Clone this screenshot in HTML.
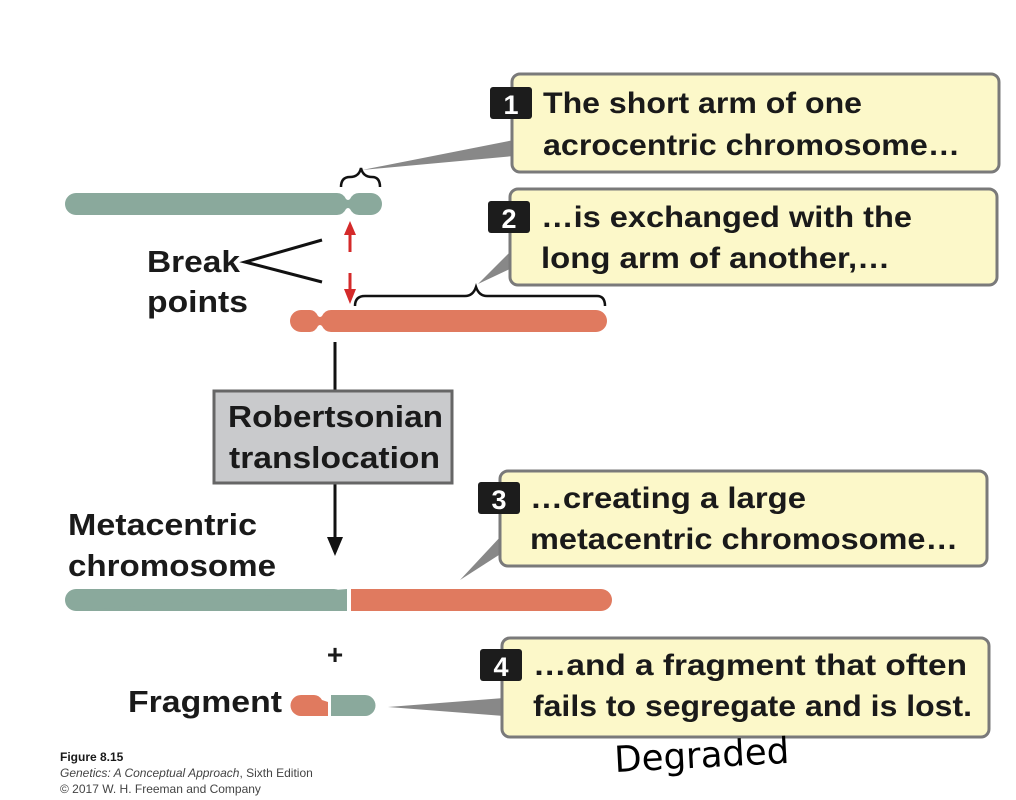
<!DOCTYPE html>
<html><head><meta charset="utf-8"><style>
html,body{margin:0;padding:0;background:#fff;width:1016px;height:800px;overflow:hidden}
text{font-family:"Liberation Sans",sans-serif;font-weight:bold;fill:#1a1a1a}
</style></head><body>
<svg width="1016" height="800" viewBox="0 0 1016 800" xmlns="http://www.w3.org/2000/svg">
<defs>
<linearGradient id="g" x1="0" x2="1"><stop offset="0" stop-color="#555"/><stop offset="1" stop-color="#999"/></linearGradient>
</defs>
<!-- callout pointers -->
<polygon points="362,170 514,140 514,156" fill="#888"/>
<polygon points="478,284 512,250 512,268" fill="#888"/>
<polygon points="460,580 502,535 502,553" fill="#888"/>
<polygon points="388,707 504,698 504,716" fill="#888"/>
<!-- boxes -->
<rect x="512" y="74" width="487" height="98" rx="8" fill="#fcf8c9" stroke="#7a7a7a" stroke-width="3"/>
<rect x="510" y="189" width="487" height="96" rx="8" fill="#fcf8c9" stroke="#7a7a7a" stroke-width="3"/>
<rect x="500" y="471" width="487" height="95" rx="8" fill="#fcf8c9" stroke="#7a7a7a" stroke-width="3"/>
<rect x="502" y="638" width="487" height="99" rx="8" fill="#fcf8c9" stroke="#7a7a7a" stroke-width="3"/>
<!-- number squares -->
<rect x="490" y="87" width="42" height="32" rx="3" fill="#1c1c1c"/><text x="511" y="114" text-anchor="middle" font-size="27" style="fill:#fff">1</text>
<rect x="488" y="201" width="42" height="32" rx="3" fill="#1c1c1c"/><text x="509" y="228" text-anchor="middle" font-size="27" style="fill:#fff">2</text>
<rect x="478" y="482" width="42" height="32" rx="3" fill="#1c1c1c"/><text x="499" y="509" text-anchor="middle" font-size="27" style="fill:#fff">3</text>
<rect x="480" y="649" width="42" height="32" rx="3" fill="#1c1c1c"/><text x="501" y="676" text-anchor="middle" font-size="27" style="fill:#fff">4</text>
<!-- box text -->
<g font-size="30" lengthAdjust="spacingAndGlyphs">
<text x="543" y="113" textLength="319" lengthAdjust="spacingAndGlyphs">The short arm of one</text>
<text x="543" y="155" textLength="417" lengthAdjust="spacingAndGlyphs">acrocentric chromosome…</text>
<text x="541" y="227" textLength="371" lengthAdjust="spacingAndGlyphs">…is exchanged with the</text>
<text x="541" y="268" textLength="349" lengthAdjust="spacingAndGlyphs">long arm of another,…</text>
<text x="530" y="508" textLength="276" lengthAdjust="spacingAndGlyphs">…creating a large</text>
<text x="530" y="549" textLength="428" lengthAdjust="spacingAndGlyphs">metacentric chromosome…</text>
<text x="533" y="675" textLength="434" lengthAdjust="spacingAndGlyphs">…and a fragment that often</text>
<text x="533" y="716" textLength="439" lengthAdjust="spacingAndGlyphs">fails to segregate and is lost.</text>
</g>
<!-- chromosome 1 (green) -->
<path d="M76,193 H337 Q343,193 346,199 Q348,201 350,199 Q353,193 359,193 H371 A11,11 0 0 1 371,215 H359 Q353,215 350,209 Q348,207 346,209 Q343,215 337,215 H76 A11,11 0 0 1 76,193 Z" fill="#8aa99c"/>
<!-- brace 1 -->
<path d="M341,187 Q341,177 350,177 Q359,177 361,168 Q363,177 372,177 Q380,177 380,187" fill="none" stroke="#111" stroke-width="2.5"/>
<!-- chromosome 2 (orange) -->
<path d="M301,310 H310 Q315,310 318,316 Q320,318 322,316 Q325,310 331,310 H596 A11,11 0 0 1 596,332 H331 Q325,332 322,326 Q320,324 318,326 Q315,332 310,332 H301 A11,11 0 0 1 301,310 Z" fill="#e07a5f"/>
<!-- brace 2 -->
<path d="M355,306 Q355,296 365,296 H465 Q473,296 476,287 Q479,296 487,296 H597 Q605,296 605,306" fill="none" stroke="#111" stroke-width="2.5"/>
<!-- red arrows -->
<line x1="350" y1="252" x2="350" y2="232" stroke="#d42a2a" stroke-width="3"/>
<polygon points="344,235 356,235 350,221" fill="#d42a2a"/>
<line x1="350" y1="273" x2="350" y2="292" stroke="#d42a2a" stroke-width="3"/>
<polygon points="344,289 356,289 350,304" fill="#d42a2a"/>
<!-- break point lines -->
<polyline points="322,240 245,262 322,282" fill="none" stroke="#111" stroke-width="3"/>
<text x="147" y="272" font-size="31" textLength="93" lengthAdjust="spacingAndGlyphs">Break</text>
<text x="147" y="312" font-size="31" textLength="101" lengthAdjust="spacingAndGlyphs">points</text>
<!-- arrow down -->
<line x1="335" y1="342" x2="335" y2="390" stroke="#111" stroke-width="3"/>
<line x1="335" y1="484" x2="335" y2="540" stroke="#111" stroke-width="3"/>
<polygon points="327,537 343,537 335,556" fill="#111"/>
<rect x="214" y="391" width="238" height="92" fill="#c9cacc" stroke="#666" stroke-width="3"/>
<text x="228" y="427" font-size="31" textLength="215" lengthAdjust="spacingAndGlyphs">Robertsonian</text>
<text x="229" y="468" font-size="31" textLength="211" lengthAdjust="spacingAndGlyphs">translocation</text>
<text x="68" y="535" font-size="31" textLength="189" lengthAdjust="spacingAndGlyphs">Metacentric</text>
<text x="68" y="576" font-size="31" textLength="208" lengthAdjust="spacingAndGlyphs">chromosome</text>
<!-- metacentric -->
<path d="M76,589 H334 Q340,589 343,595 L347,598 V611 H76 A11,11 0 0 1 76,589 Z" fill="#8aa99c"/>
<path d="M76,611 H334 Q340,611 343,605 L347,602 V589" fill="#8aa99c"/>
<path d="M351,589 H601 A11,11 0 0 1 601,611 H351 Z" fill="#e07a5f"/>
<text x="335" y="664" font-size="28" text-anchor="middle">+</text>
<text x="128" y="712" font-size="31" textLength="154" lengthAdjust="spacingAndGlyphs">Fragment</text>
<!-- fragment -->
<path d="M301,695 H314 Q319,695 322,700 L328,702 V716 H301 A10.5,10.5 0 0 1 301,695 Z" fill="#e07a5f"/>
<path d="M301,716 H314 Q319,716 322,711 L328,709" fill="#e07a5f"/>
<path d="M331,695 H365 A10.5,10.5 0 0 1 365,716 H331 Z" fill="#8aa99c"/>
<!-- footer -->
<text x="60" y="761" font-size="12">Figure 8.15</text>
<text x="60" y="777" font-size="12" style="font-weight:normal;fill:#444"><tspan font-style="italic">Genetics: A Conceptual Approach</tspan>, Sixth Edition</text>
<text x="60" y="793" font-size="12" style="font-weight:normal;fill:#444">© 2017 W. H. Freeman and Company</text>
<text x="615" y="772" font-size="36" style="font-weight:normal;font-family:'DejaVu Sans',sans-serif;fill:#000" textLength="175" lengthAdjust="spacingAndGlyphs" transform="rotate(-3 615 772)">Degraded</text>
</svg>
</body></html>
